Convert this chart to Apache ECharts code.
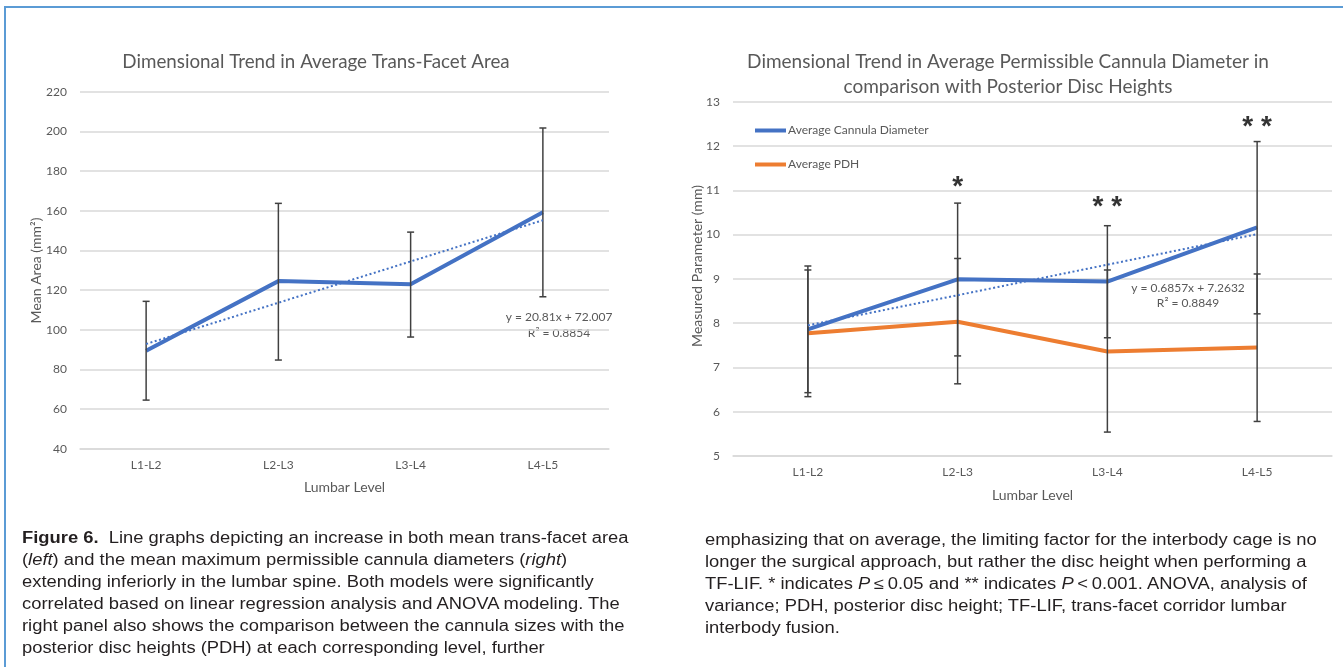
<!DOCTYPE html>
<html>
<head>
<meta charset="utf-8">
<script src="https://cdn.jsdelivr.net/npm/echarts@6/dist/echarts.min.js"></script>
<style>
html,body{margin:0;padding:0;background:#fff;width:1343px;height:667px;overflow:hidden;}
#chart{position:absolute;left:0;top:0;width:1343px;height:667px;}
.frame-top{position:absolute;left:4px;top:6px;width:1339px;height:2px;background:#5b9bd5;}
.frame-left{position:absolute;left:4px;top:6px;width:2px;height:661px;background:#5b9bd5;}
.cap{position:absolute;font-family:'Liberation Sans',Arial,sans-serif;font-size:16px;line-height:22px;color:#231f20;white-space:nowrap;transform-origin:0 0;transform:scaleX(1.148);}
.cap b{font-weight:bold;}
</style>
</head>
<body>
<div id="chart"></div>
<div class="frame-top"></div>
<div class="frame-left"></div>
<div class="cap" style="left:22px;top:527px;">
<b>Figure 6.</b>&nbsp; Line graphs depicting an increase in both mean trans-facet area<br>
(<i>left</i>) and the mean maximum permissible cannula diameters (<i>right</i>)<br>
extending inferiorly in the lumbar spine. Both models were significantly<br>
correlated based on linear regression analysis and ANOVA modeling. The<br>
right panel also shows the comparison between the cannula sizes with the<br>
posterior disc heights (PDH) at each corresponding level, further
</div>
<div class="cap" style="left:705px;top:529px;">
emphasizing that on average, the limiting factor for the interbody cage is no<br>
longer the surgical approach, but rather the disc height when performing a<br>
TF-LIF. * indicates <i>P</i>&thinsp;&le;&thinsp;0.05 and ** indicates <i>P</i>&thinsp;&lt;&thinsp;0.001. ANOVA, analysis of<br>
variance; PDH, posterior disc height; TF-LIF, trans-facet corridor lumbar<br>
interbody fusion.
</div>
<script>
// ---- data ----
const levels = ['L1-L2', 'L2-L3', 'L3-L4', 'L4-L5'];

// Left panel: mean trans-facet area (mm^2)
const areaMean  = [89.4, 124.5, 122.9, 159.2];
const areaLow   = [64.5, 84.7, 96.3, 116.6];
const areaHigh  = [114.3, 163.7, 149.2, 201.7];
const areaTrend = [92.8, 113.6, 134.4, 155.2];
const areaTicks = {min: 40, max: 220, interval: 20};

// Right panel: cannula diameter & PDH (mm)
const cannulaMean  = [7.86, 8.99, 8.94, 10.16];
const cannulaLow   = [6.43, 7.26, 7.67, 8.21];
const cannulaHigh  = [9.29, 10.71, 10.20, 12.10];
const cannulaTrend = [7.95, 8.63, 9.32, 10.01];
const pdhMean  = [7.77, 8.03, 7.36, 7.45];
const pdhLow   = [6.34, 6.63, 5.54, 5.78];
const pdhHigh  = [9.20, 9.46, 9.20, 9.11];
const sigMarks = ['', '*', '* *', '* *'];
const sigY     = [null, 11.16, 10.71, 12.52];
const paramTicks = {min: 5, max: 13, interval: 1};

const leftEq  = ['y = 20.81x + 72.007', 'R² = 0.8854'];
const rightEq = ['y = 0.6857x + 7.2632', 'R² = 0.8849'];

// ---- chart ----
const FONT = 'Lato, "Open Sans", sans-serif';
const GREY = '#595959';
const BLUE = '#4472c4';
const ORANGE = '#ed7d31';

function errRender(params, api) {
  const x = api.value(0), lo = api.value(1), hi = api.value(2);
  const pLo = api.coord([x, lo]);
  const pHi = api.coord([x, hi]);
  const w = 3.5;
  const style = {stroke: '#404040', lineWidth: 1.5};
  return {type: 'group', children: [
    {type: 'line', shape: {x1: pHi[0], y1: pHi[1], x2: pLo[0], y2: pLo[1]}, style: style},
    {type: 'line', shape: {x1: pHi[0] - w, y1: pHi[1], x2: pHi[0] + w, y2: pHi[1]}, style: style},
    {type: 'line', shape: {x1: pLo[0] - w, y1: pLo[1], x2: pLo[0] + w, y2: pLo[1]}, style: style}
  ]};
}
function errData(lo, hi) { return lo.map((v, i) => [i, v, hi[i]]); }

function xAxisCfg(gridIndex, gap) {
  return {
    type: 'category', gridIndex: gridIndex, data: levels, boundaryGap: true,
    axisLine: {lineStyle: {color: '#d9d9d9', width: 1.5}},
    axisTick: {show: false},
    axisLabel: {color: GREY, fontFamily: FONT, fontSize: 12, margin: 10},
    name: 'Lumbar Level', nameLocation: 'middle', nameGap: gap,
    nameTextStyle: {color: GREY, fontFamily: FONT, fontSize: 14}
  };
}
function yAxisCfg(gridIndex, ticks) {
  return {
    type: 'value', gridIndex: gridIndex, min: ticks.min, max: ticks.max, interval: ticks.interval,
    axisLine: {show: false}, axisTick: {show: false},
    splitLine: {lineStyle: {color: '#d9d9d9', width: 1.5}},
    axisLabel: {color: GREY, fontFamily: FONT, fontSize: 12, margin: 13}
  };
}
function txt(x, y, s, size, color, weight, rot) {
  return {type: 'text', x: x, y: y, rotation: rot || 0, silent: true,
    style: {text: s, fill: color || GREY, font: (weight || 'normal') + ' ' + size + 'px ' + FONT,
      textAlign: 'center', textVerticalAlign: 'middle'}};
}

const chart = echarts.init(document.getElementById('chart'), null, {renderer: 'canvas'});
chart.setOption({
  animation: false,
  backgroundColor: 'transparent',
  grid: [
    {left: 80, width: 529, top: 91.7, height: 357},
    {left: 733, width: 599, top: 101.7, height: 354.3}
  ],
  xAxis: [xAxisCfg(0, 32), xAxisCfg(1, 32)],
  yAxis: [yAxisCfg(0, areaTicks), yAxisCfg(1, paramTicks)],
  legend: {
    data: ['Average Cannula Diameter', 'Average PDH'],
    orient: 'vertical', left: 755, top: 124.5, padding: 0,
    itemWidth: 31, itemHeight: 4, itemGap: 22, icon: 'rect',
    textStyle: {color: GREY, fontFamily: FONT, fontSize: 12, padding: [0, 0, 0, -3]}
  },
  graphic: [
    txt(316, 61.7, 'Dimensional Trend in Average Trans-Facet Area', 18.8),
    txt(1008, 61.7, 'Dimensional Trend in Average Permissible Cannula Diameter in', 19),
    txt(1008, 86.7, 'comparison with Posterior Disc Heights', 19),
    txt(36, 270.5, 'Mean Area (mm²)', 14, GREY, 'normal', Math.PI / 2),
    txt(697, 266, 'Measured Parameter (mm)', 14, GREY, 'normal', Math.PI / 2),
    txt(559, 316.7, leftEq[0], 12),
    txt(559, 333.3, leftEq[1], 12),
    txt(1188, 287.7, rightEq[0], 12),
    txt(1188, 303.3, rightEq[1], 12)
  ],
  series: [
    {type: 'custom', name: 'areaErr', xAxisIndex: 0, yAxisIndex: 0, renderItem: errRender,
      data: errData(areaLow, areaHigh), z: 3, silent: true},
    {type: 'line', name: 'Mean Trans-Facet Area', xAxisIndex: 0, yAxisIndex: 0, data: areaMean,
      symbol: 'none', lineStyle: {color: BLUE, width: 4}, itemStyle: {color: BLUE}, z: 2},
    {type: 'line', name: 'areaTrend', xAxisIndex: 0, yAxisIndex: 0, data: areaTrend,
      symbol: 'none', lineStyle: {color: BLUE, width: 2, type: [2, 2.5]}, z: 4},

    {type: 'custom', name: 'cannulaErr', xAxisIndex: 1, yAxisIndex: 1, renderItem: errRender,
      data: errData(cannulaLow, cannulaHigh), z: 3, silent: true},
    {type: 'custom', name: 'pdhErr', xAxisIndex: 1, yAxisIndex: 1, renderItem: errRender,
      data: errData(pdhLow, pdhHigh), z: 3, silent: true},
    {type: 'line', name: 'Average Cannula Diameter', xAxisIndex: 1, yAxisIndex: 1, data: cannulaMean,
      symbol: 'none', lineStyle: {color: BLUE, width: 4}, itemStyle: {color: BLUE}, z: 2},
    {type: 'line', name: 'Average PDH', xAxisIndex: 1, yAxisIndex: 1, data: pdhMean,
      symbol: 'none', lineStyle: {color: ORANGE, width: 4}, itemStyle: {color: ORANGE}, z: 2},
    {type: 'line', name: 'cannulaTrend', xAxisIndex: 1, yAxisIndex: 1, data: cannulaTrend,
      symbol: 'none', lineStyle: {color: BLUE, width: 2, type: [2, 2.5]}, z: 4},
    {type: 'scatter', name: 'sig', xAxisIndex: 1, yAxisIndex: 1,
      data: sigY.map((v, i) => [i, v]).filter(d => d[1] !== null),
      symbolSize: 0, silent: true,
      label: {show: true, position: 'inside', offset: [0, 4], color: '#000', fontWeight: 'bold', fontSize: 28,
        fontFamily: '"Liberation Sans", Arial, sans-serif',
        formatter: p => sigMarks[p.data[0]]}}
  ]
});
</script>
</body>
</html>
